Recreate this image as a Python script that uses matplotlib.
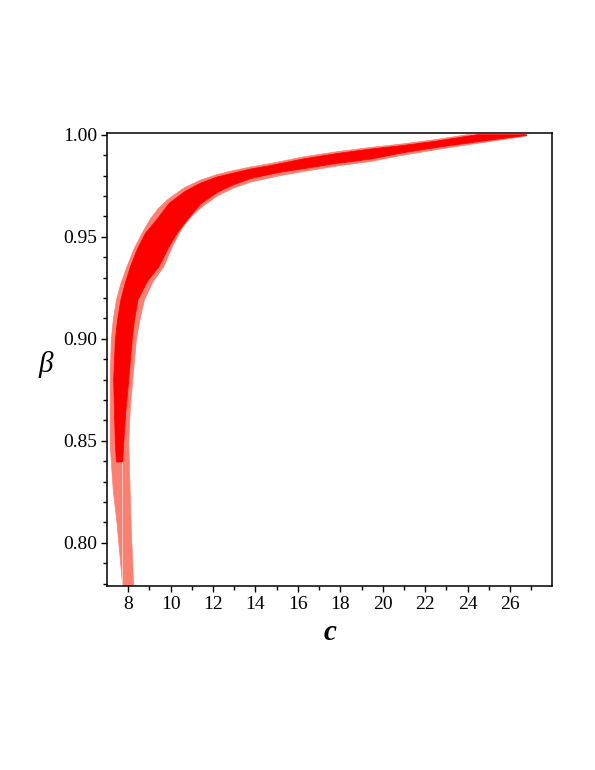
import numpy as np
import matplotlib
matplotlib.use('Agg')
import matplotlib.pyplot as plt
from matplotlib.ticker import MultipleLocator, FormatStrFormatter

plt.rcParams['font.family'] = ['Liberation Serif', 'DejaVu Serif']

# outer (salmon) region: left/upper edge and right/lower edge, bottom -> tip
outer_left_c = [7.745, 7.48, 7.30, 7.21, 7.16, 7.16, 7.21, 7.30, 7.45, 7.66, 7.95, 8.28, 8.66,
                9.05, 9.42, 9.84, 10.63, 11.42, 12.20, 12.99, 13.78, 14.72, 16.29, 17.87,
                19.45, 20.86, 22.42, 23.98, 26.77]
outer_left_beta = [0.779, 0.8095, 0.826, 0.8396, 0.8487, 0.8798, 0.8994, 0.909, 0.919, 0.927,
                   0.9353, 0.944, 0.9517, 0.9587, 0.9638, 0.968, 0.9739, 0.9778, 0.9805, 0.9825,
                   0.9842, 0.9859, 0.9892, 0.9917, 0.9938, 0.9954, 0.9975, 1.0, 1.0]
outer_right_c = [8.26, 8.14, 8.06, 8.03, 8.10, 8.22, 8.39, 8.55, 8.77, 9.18, 9.68, 10.10, 10.52,
                 10.94, 11.42, 12.20, 12.99, 13.78, 15.19, 16.29, 17.87, 19.45, 20.86, 22.42,
                 24.01, 25.59, 26.77]
outer_right_beta = [0.779, 0.8095, 0.8396, 0.8487, 0.865, 0.8798, 0.8994, 0.909, 0.919, 0.928,
                    0.9353, 0.9455, 0.9538, 0.9595, 0.9641, 0.97, 0.9739, 0.9768, 0.98, 0.982,
                    0.9847, 0.9869, 0.9898, 0.9925, 0.9951, 0.9975, 0.9994]

# inner (red) region
inner_left_c = [7.45, 7.40, 7.32, 7.40, 7.50, 7.66, 7.86, 8.11, 8.44, 8.82, 9.34, 9.95, 10.71,
                11.42, 12.20, 12.99, 13.78, 14.72, 16.29, 17.87, 19.45, 20.86, 22.42, 24.45,
                26.77]
inner_left_beta = [0.8396, 0.8487, 0.8798, 0.8994, 0.909, 0.919, 0.927, 0.9353, 0.944, 0.9517,
                   0.9582, 0.9665, 0.9724, 0.9763, 0.9793, 0.9813, 0.9832, 0.9849, 0.9882,
                   0.9908, 0.993, 0.9946, 0.9967, 1.0, 1.0]
inner_right_c = [7.75, 7.79, 7.90, 8.03, 8.19, 8.30, 8.46, 8.90, 9.45, 9.90, 10.31, 10.75, 11.42,
                 12.20, 12.99, 13.78, 15.19, 16.29, 17.87, 19.45, 20.86, 22.42, 24.01, 25.59,
                 26.77]
inner_right_beta = [0.8396, 0.8487, 0.865, 0.8798, 0.8994, 0.909, 0.919, 0.928, 0.9353, 0.9445,
                    0.9517, 0.9577, 0.9661, 0.9717, 0.9756, 0.9785, 0.9817, 0.9834, 0.986,
                    0.9881, 0.991, 0.9936, 0.9959, 0.9981, 0.9996]

fig = plt.figure(figsize=(5.95, 7.70), dpi=100)
ax = fig.add_axes([0.1803, 0.2394, 0.7474, 0.5875])

oc = outer_left_c + outer_right_c[::-1]
ob = outer_left_beta + outer_right_beta[::-1]
ax.fill(oc, ob, color='#fa8072', lw=0.5, ec='#fa8072')

ic = inner_left_c + inner_right_c[::-1]
ib = inner_left_beta + inner_right_beta[::-1]
ax.fill(ic, ib, color='#ff0000', lw=0.5, ec='#ff0000')

# faint seam line under the red part
ax.plot([7.7, 7.7], [inner_left_beta[0], 0.779], color='#ffd6cf', lw=0.6)

ax.set_xlim(7.02, 27.97)
ax.set_ylim(0.779, 1.0007)

ax.xaxis.set_major_locator(MultipleLocator(2))
ax.xaxis.set_minor_locator(MultipleLocator(1))
ax.yaxis.set_major_locator(MultipleLocator(0.05))
ax.yaxis.set_minor_locator(MultipleLocator(0.01))
ax.yaxis.set_major_formatter(FormatStrFormatter('%.2f'))

ax.tick_params(which='both', direction='out', top=False, right=False, labelsize=14, width=1)
ax.tick_params(which='major', length=4.5, pad=3)
ax.tick_params(which='minor', length=3)
for s in ax.spines.values():
    s.set_linewidth(1.1)

ax.set_xlabel('c', fontsize=21, fontweight='bold', fontstyle='italic', va='center')
ax.xaxis.set_label_coords(0.5008, -0.1046)
ax.set_ylabel('β', fontsize=21, fontstyle='italic', rotation=0, va='center', ha='center')
ax.yaxis.set_label_coords(-0.139, 0.488)

plt.savefig('out.png', dpi=100)
